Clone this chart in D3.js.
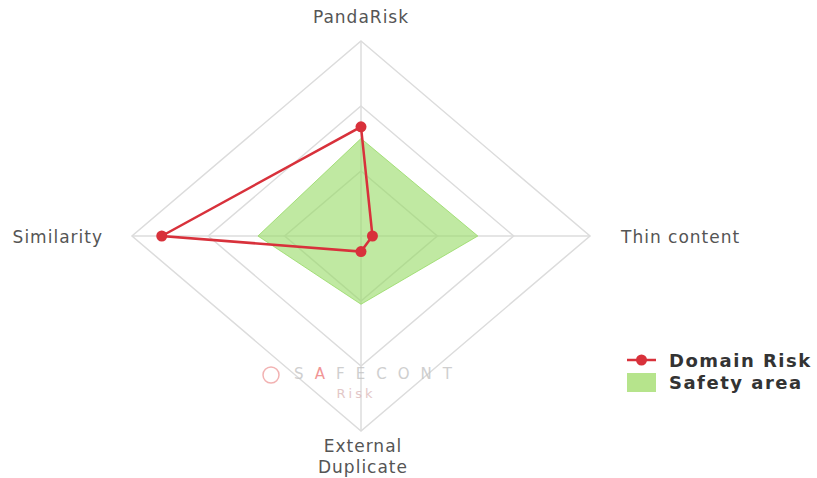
<!DOCTYPE html>
<html>
<head>
<meta charset="utf-8">
<script src="https://cdn.jsdelivr.net/npm/d3@7"></script>
<style>
  body { margin: 0; background: #fff; }
  svg { display: block; font-family: "DejaVu Sans", "Open Sans", sans-serif; }
  .axis-label { fill: #555; font-size: 17px; letter-spacing: 1px; }
  .legend-text { fill: #333; font-size: 18px; font-weight: bold; letter-spacing: 1.5px; }
</style>
</head>
<body>
<div id="chart"></div>
<script>
//////////////////////////////////////////////////////////////
//////////////////////// Data ////////////////////////////////
//////////////////////////////////////////////////////////////

const axes = ["PandaRisk", "Thin content", "External Duplicate", "Similarity"]
const domainRisk = [56, 5, 8, 87]
const safetyArea = [50, 51, 35, 45]
const levels = [1/3, 2/3, 1]
const maxValue = 100
const seriesNames = ["Domain Risk", "Safety area"]

//////////////////////////////////////////////////////////////
//////////////////////// Setup ///////////////////////////////
//////////////////////////////////////////////////////////////

const width = 817, height = 478
const cx = 361, cy = 236
const radiusX = 229, radiusY = 195

const red = "#d8313b"

const svg = d3.select("#chart").append("svg")
    .attr("width", width)
    .attr("height", height)

const g = svg.append("g").attr("transform", `translate(${cx},${cy})`)

const angle = d3.scaleLinear().domain([0, axes.length]).range([0, 2 * Math.PI])
const rScale = d3.scaleLinear().domain([0, maxValue]).range([0, 1])

// value -> x,y (elliptical since chart is stretched horizontally)
const px = (i, v) => rScale(v) * radiusX * Math.sin(angle(i))
const py = (i, v) => -rScale(v) * radiusY * Math.cos(angle(i))

const polyLine = d3.line().x(d => d[0]).y(d => d[1])

//////////////////////////////////////////////////////////////
//////////////////////// Grid ////////////////////////////////
//////////////////////////////////////////////////////////////

const grid = g.append("g").attr("class", "grid")

levels.forEach(l => {
    const pts = axes.map((a, i) => [px(i, l * maxValue), py(i, l * maxValue)])
    grid.append("path")
        .attr("d", polyLine(pts) + "Z")
        .attr("fill", "none")
        .attr("stroke", "#dcdcdc")
        .attr("stroke-width", 1.5)
})

axes.forEach((a, i) => {
    grid.append("line")
        .attr("x1", 0).attr("y1", 0)
        .attr("x2", px(i, maxValue)).attr("y2", py(i, maxValue))
        .attr("stroke", "#dcdcdc")
        .attr("stroke-width", 1.5)
})

//////////////////////////////////////////////////////////////
////////////////////// Watermark /////////////////////////////
//////////////////////////////////////////////////////////////

const wm = g.append("g").attr("opacity", 0.8)
wm.append("circle").attr("cx", -90).attr("cy", 139).attr("r", 8)
    .attr("fill", "none").attr("stroke", "#f0a0a0").attr("stroke-width", 1.5)
const wmText = wm.append("text").attr("x", -67).attr("y", 143)
    .style("font-size", "15px").style("letter-spacing", "11px").attr("fill", "#c4c4c4")
wmText.append("tspan").text("S")
wmText.append("tspan").attr("fill", "#ee7b7b").text("A")
wmText.append("tspan").text("FECONT")
wm.append("text").attr("x", -5).attr("y", 162).attr("text-anchor", "middle")
    .style("font-size", "13px").style("letter-spacing", "3px")
    .attr("fill", "#dcbaba").text("Risk")

//////////////////////////////////////////////////////////////
//////////////////////// Series //////////////////////////////
//////////////////////////////////////////////////////////////

const safePts = safetyArea.map((v, i) => [px(i, v), py(i, v)])
g.append("path")
    .attr("d", polyLine(safePts) + "Z")
    .attr("fill", "rgba(150,218,100,0.6)")
    .attr("stroke", "rgba(150,218,100,0.8)")
    .attr("stroke-width", 1)

const riskPts = domainRisk.map((v, i) => [px(i, v), py(i, v)])
g.append("path")
    .attr("d", polyLine(riskPts) + "Z")
    .attr("fill", "none")
    .attr("stroke", red)
    .attr("stroke-width", 2.5)

g.selectAll(".dot")
    .data(riskPts)
    .enter().append("circle")
    .attr("class", "dot")
    .attr("cx", d => d[0])
    .attr("cy", d => d[1])
    .attr("r", 5.5)
    .attr("fill", red)

//////////////////////////////////////////////////////////////
//////////////////////// Labels //////////////////////////////
//////////////////////////////////////////////////////////////

const labelPos = [
    {x: 0, y: -213, anchor: "middle"},
    {x: 260, y: 7, anchor: "start"},
    {x: 2, y: 216, anchor: "middle"},
    {x: -258, y: 7, anchor: "end"}
]

axes.forEach((a, i) => {
    const t = g.append("text")
        .attr("class", "axis-label")
        .attr("x", labelPos[i].x)
        .attr("y", labelPos[i].y)
        .attr("text-anchor", labelPos[i].anchor)
    const words = a === "External Duplicate" ? a.split(" ") : [a]
    words.forEach((w, j) => {
        t.append("tspan").attr("x", labelPos[i].x).attr("dy", j ? 21 : 0).text(w)
    })
})

//////////////////////////////////////////////////////////////
//////////////////////// Legend //////////////////////////////
//////////////////////////////////////////////////////////////

const legend = svg.append("g").attr("transform", "translate(627,360)")

legend.append("line").attr("x1", 0).attr("x2", 29).attr("y1", 0).attr("y2", 0)
    .attr("stroke", red).attr("stroke-width", 2.5)
legend.append("circle").attr("cx", 14.5).attr("cy", 0).attr("r", 5.5).attr("fill", red)
legend.append("text").attr("class", "legend-text").attr("x", 42).attr("y", 6.5).text(seriesNames[0])

legend.append("rect").attr("x", 0).attr("y", 13).attr("width", 29).attr("height", 19)
    .attr("fill", "#b6e48c")
legend.append("text").attr("class", "legend-text").attr("x", 42).attr("y", 29).text(seriesNames[1])
</script>
</body>
</html>
